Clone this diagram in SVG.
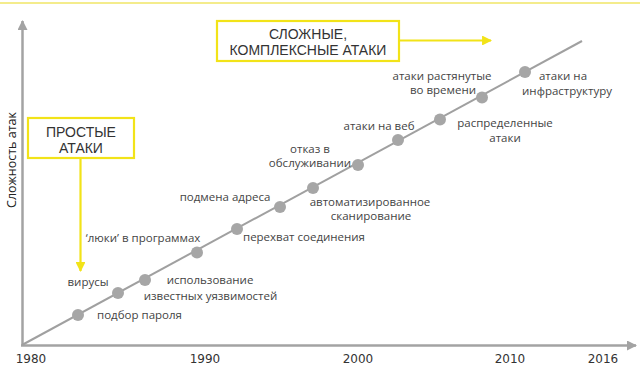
<svg xmlns="http://www.w3.org/2000/svg" width="640" height="371" viewBox="0 0 640 371">
<defs>
<style>
.lbl{font-family:"Open Sans","Liberation Sans",sans-serif;font-size:11.5px;fill:#444;text-anchor:middle}
.yr{font-family:"DejaVu Sans","Liberation Sans",sans-serif;font-size:12px;fill:#333;text-anchor:middle}
.box{fill:#fff;stroke:#f2e318;stroke-width:2.2}
.bt{font-family:"Liberation Sans",Arial,sans-serif;font-size:14px;fill:#333;text-anchor:middle}
.dot{fill:#a6a6a6}
.axis{stroke:#a3a3a3;stroke-width:2.5;fill:none}
.yl{stroke:#f2e318;stroke-width:2.2;fill:none}
</style>
<marker id="ga" viewBox="0 0 10 10" refX="9" refY="5" markerWidth="4" markerHeight="4" orient="auto" markerUnits="strokeWidth"><path d="M0,0 L10,5 L0,10 z" fill="#a3a3a3"/></marker>
<marker id="ya" viewBox="0 0 10 10" refX="9" refY="5" markerWidth="4.5" markerHeight="4.5" orient="auto" markerUnits="strokeWidth"><path d="M0,0 L10,5 L0,10 z" fill="#f2e318"/></marker>
</defs>
<rect width="640" height="371" fill="#fff"/>
<line x1="0" y1="3" x2="640" y2="3" stroke="#f4ec8c" stroke-width="1.8"/>
<g id="connectors">
<line class="axis" x1="22.5" y1="346" x2="22.5" y2="21" marker-end="url(#ga)"/>
<line class="axis" x1="21" y1="345.5" x2="636" y2="345.5" marker-end="url(#ga)"/>
<line x1="22" y1="345" x2="582" y2="41" stroke="#a0a0a0" stroke-width="2"/>
<line class="yl" x1="80.5" y1="158" x2="80.5" y2="271" marker-end="url(#ya)"/>
<line class="yl" x1="399" y1="40.5" x2="491" y2="40.5" marker-end="url(#ya)"/>
</g>
<g id="axis-labels">
<text class="yr" x="31" y="363">1980</text>
<text class="yr" x="205" y="363">1990</text>
<text class="yr" x="358" y="363">2000</text>
<text class="yr" x="510" y="363">2010</text>
<text class="yr" x="603" y="363">2016</text>
<text transform="translate(16,160) rotate(-90)" font-family="'Open Sans','Liberation Sans',sans-serif" font-size="12.5px" fill="#222" text-anchor="middle">Сложность атак</text>
</g>
<g id="box-simple">
<rect class="box" x="28" y="118" width="106" height="40"/>
<text class="bt" x="81" y="137">ПРОСТЫЕ</text>
<text class="bt" x="81" y="153">АТАКИ</text>
</g>
<g id="box-complex">
<rect class="box" x="217" y="21" width="182" height="40"/>
<text class="bt" x="308" y="38.5">СЛОЖНЫЕ,</text>
<text class="bt" x="308" y="54.5">КОМПЛЕКСНЫЕ АТАКИ</text>
</g>
<g id="n-podbor"><circle class="dot" cx="78" cy="315" r="6"/><text class="lbl" x="139.5" y="319">подбор пароля</text></g>
<g id="n-virusy"><circle class="dot" cx="118" cy="293" r="6"/><text class="lbl" x="88" y="286">вирусы</text></g>
<g id="n-ispolz"><circle class="dot" cx="145" cy="280" r="6"/><text class="lbl" x="210" y="284">использование</text><text class="lbl" x="210.5" y="300">известных уязвимостей</text></g>
<g id="n-lyuki"><circle class="dot" cx="197" cy="252.5" r="6"/><text class="lbl" x="143" y="242">‘люки’ в программах</text></g>
<g id="n-perehvat"><circle class="dot" cx="237" cy="229" r="6"/><text class="lbl" x="304" y="241">перехват соединения</text></g>
<g id="n-podmena"><circle class="dot" cx="280" cy="207" r="6"/><text class="lbl" x="225" y="201">подмена адреса</text></g>
<g id="n-avto"><circle class="dot" cx="313" cy="188" r="6"/><text class="lbl" x="370" y="206">автоматизированное</text><text class="lbl" x="371" y="220">сканирование</text></g>
<g id="n-otkaz"><circle class="dot" cx="358" cy="165" r="6"/><text class="lbl" x="310" y="153">отказ в</text><text class="lbl" x="310" y="167">обслуживании</text></g>
<g id="n-veb"><circle class="dot" cx="398" cy="140" r="6"/><text class="lbl" x="379" y="130">атаки на веб</text></g>
<g id="n-raspr"><circle class="dot" cx="440" cy="119.5" r="6"/><text class="lbl" x="505" y="127">распределенные</text><text class="lbl" x="505" y="142">атаки</text></g>
<g id="n-rastyan"><circle class="dot" cx="482" cy="97.5" r="6"/><text class="lbl" x="442" y="80">атаки растянутые</text><text class="lbl" x="443" y="94">во времени</text></g>
<g id="n-infra"><circle class="dot" cx="525" cy="72" r="6"/><text class="lbl" x="563" y="80">атаки на</text><text class="lbl" x="567" y="95">инфраструктуру</text></g>
</svg>
